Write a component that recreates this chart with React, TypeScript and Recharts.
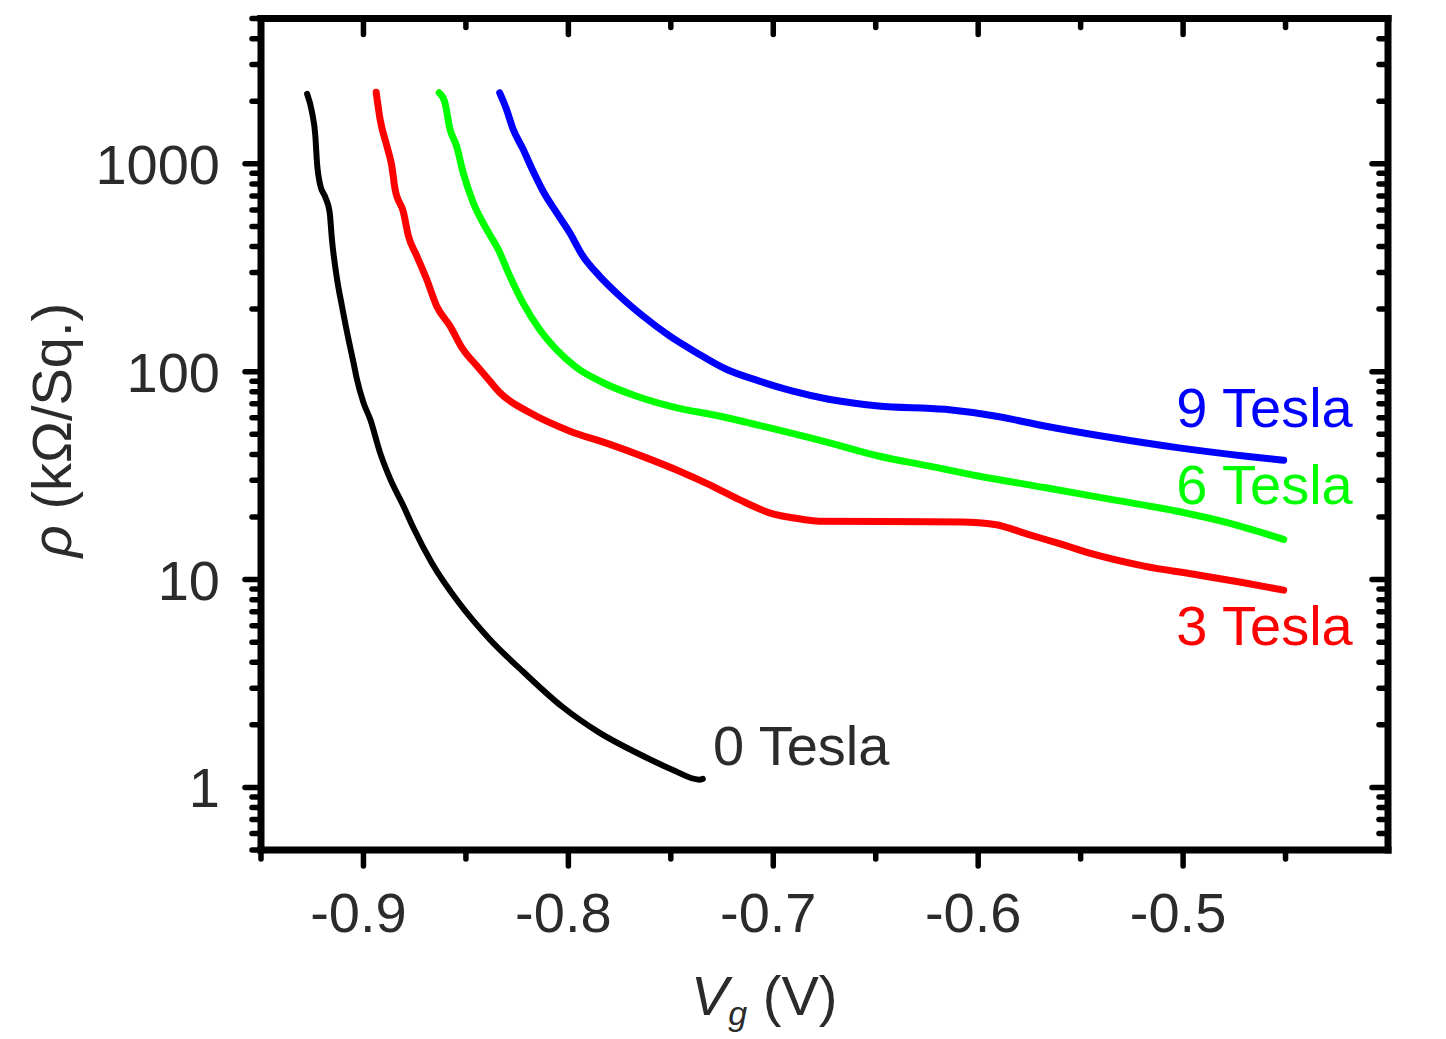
import React from 'react';
import { LineChart, Line, XAxis, YAxis, ReferenceDot } from 'recharts';

// ---------- data (Vg in V, rho in kOhm/Sq.) ----------
const V_0T = [-0.9275, -0.9251, -0.9235, -0.9227, -0.9211, -0.9186, -0.9165, -0.9154, -0.9129, -0.9105, -0.9073, -0.9049, -0.9032, -0.9, -0.8967, -0.8919, -0.8869, -0.8805, -0.8757, -0.8667, -0.8534, -0.8383, -0.8215, -0.8031, -0.7847, -0.7662, -0.7495, -0.7361, -0.7344];
const RHO_0T = [2170, 1770, 1370, 1020, 790, 690, 585, 435, 279, 207, 143, 111, 92, 71, 59, 40.8, 30.4, 22.6, 17.8, 12.05, 7.73, 5.15, 3.56, 2.45, 1.83, 1.46, 1.22, 1.09, 1.1];

const V_3T = [-0.8938, -0.8919, -0.8886, -0.8862, -0.8846, -0.8805, -0.8781, -0.874, -0.8692, -0.8643, -0.8578, -0.8514, -0.8448, -0.8384, -0.8335, -0.8189, -0.7995, -0.78, -0.7622, -0.746, -0.7315, -0.7168, -0.7022, -0.686, -0.6779, -0.6487, -0.6082, -0.5919, -0.5757, -0.5595, -0.5433, -0.519, -0.4947, -0.4703, -0.4509];
const RHO_3T = [2210, 1640, 1220, 980, 757, 585, 451, 361, 279, 207, 166, 128, 107, 90.3, 79.4, 63.6, 51.9, 44.8, 38.6, 33.3, 28.7, 24.3, 21.0, 19.5, 19.1, 19.0, 18.9, 18.4, 16.5, 14.8, 13.2, 11.6, 10.6, 9.65, 8.89];

const V_6T = [-0.863, -0.8603, -0.8578, -0.8546, -0.8514, -0.8465, -0.84, -0.8343, -0.8286, -0.8222, -0.8141, -0.8059, -0.7962, -0.7833, -0.767, -0.7476, -0.7265, -0.7022, -0.673, -0.6487, -0.6243, -0.6, -0.5676, -0.5352, -0.5028, -0.4785, -0.4509];
const RHO_6T = [2195, 1980, 1470, 1220, 911, 653, 486, 389, 289, 215, 160, 128, 105, 88.7, 76.4, 67.2, 61.2, 53.8, 45.6, 39.3, 35.2, 31.5, 27.7, 24.3, 21.3, 18.8, 15.6];

const V_9T = [-0.8335, -0.8303, -0.827, -0.8222, -0.8173, -0.8124, -0.8059, -0.7995, -0.793, -0.7849, -0.7751, -0.7638, -0.7508, -0.7378, -0.7232, -0.7071, -0.6909, -0.673, -0.6487, -0.6162, -0.5919, -0.5676, -0.5352, -0.5028, -0.4703, -0.4509];
const RHO_9T = [2195, 1840, 1470, 1180, 925, 740, 585, 469, 361, 289, 232, 186, 149, 124, 103, 90.3, 80.8, 73.7, 68.4, 65.9, 61.2, 54.8, 48.2, 43.1, 39.3, 37.5];

// ---------- axes ----------
const X_DOMAIN = [-0.95, -0.4];
const X_TICKS = [-0.95, -0.9, -0.85, -0.8, -0.75, -0.7, -0.65, -0.6, -0.55, -0.5, -0.45];
const X_MAJOR = [-0.9, -0.8, -0.7, -0.6, -0.5];
const X_LABELS = ['-0.9', '-0.8', '-0.7', '-0.6', '-0.5'];

const Y_DOMAIN = [0.5, 5000];
const Y_TICKS = [0.5, 0.6, 0.7, 0.8, 0.9, 1, 2, 3, 4, 5, 6, 7, 8, 9, 10, 20, 30, 40, 50, 60, 70, 80, 90, 100, 200, 300, 400, 500, 600, 700, 800, 900, 1000, 2000, 3000, 4000, 5000];
const Y_MAJOR = [1, 10, 100, 1000];
const Y_LABELS = ['1', '10', '100', '1000'];

// ---------- annotations ----------
const SERIES_NAMES = ['0 Tesla', '3 Tesla', '6 Tesla', '9 Tesla'];
const LABEL_V = [-0.7294, -0.4172, -0.4172, -0.4172];
const LABEL_RHO = [1.286, 4.87, 23.0, 54.0];

const SERIES_COLORS = ['#000000', '#ff0000', '#00ff00', '#0000ff'];
const SERIES_WIDTHS = [6, 7, 7, 7];
const LABEL_COLORS = ['#2b2b2b', '#ff0000', '#00ff00', '#0000ff'];
const LABEL_ANCHORS = ['start', 'end', 'end', 'end'];

const toRows = (v: number[], r: number[]) => v.map((x, i) => ({ v: x, rho: r[i] }));
const SERIES_DATA = [toRows(V_0T, RHO_0T), toRows(V_3T, RHO_3T), toRows(V_6T, RHO_6T), toRows(V_9T, RHO_9T)];

const FONT = '"Liberation Sans", Arial, Helvetica, sans-serif';
const TEXT = '#2b2b2b';
const MAJ = 16;
const MIN = 9;
const TW = 5.5;

const idx = (arr: number[], v: number) => arr.findIndex((m) => Math.abs(m - v) < 1e-9 * Math.max(1, Math.abs(m)));

const BottomTick = (props: any) => {
  const { x, y, payload } = props;
  const i = idx(X_MAJOR, payload.value);
  return (
    <g>
      <line x1={x} y1={y} x2={x} y2={y + (i >= 0 ? MAJ : MIN)} stroke="#000" strokeWidth={TW} strokeLinecap="round" />
      {i >= 0 && (
        <text x={x - 5} y={y + 82} textAnchor="middle" fontSize={56} fontFamily={FONT} fill={TEXT}>
          {X_LABELS[i]}
        </text>
      )}
    </g>
  );
};

const TopTick = (props: any) => {
  const { x, y, payload } = props;
  const i = idx(X_MAJOR, payload.value);
  return (
    <g>
      <line x1={x} y1={y} x2={x} y2={y + (i >= 0 ? MAJ : MIN)} stroke="#000" strokeWidth={TW} strokeLinecap="round" />
    </g>
  );
};

const LeftTick = (props: any) => {
  const { x, y, payload } = props;
  const i = idx(Y_MAJOR, payload.value);
  return (
    <g>
      <line x1={x} y1={y} x2={x - (i >= 0 ? MAJ : MIN)} y2={y} stroke="#000" strokeWidth={TW} strokeLinecap="round" />
      {i >= 0 && (
        <text x={x - 41} y={y + 20} textAnchor="end" fontSize={56} fontFamily={FONT} fill={TEXT}>
          {Y_LABELS[i]}
        </text>
      )}
    </g>
  );
};

const RightTick = (props: any) => {
  const { x, y, payload } = props;
  const i = idx(Y_MAJOR, payload.value);
  if (payload.value <= 0.5) return <g />;
  return (
    <g>
      <line x1={x} y1={y} x2={x - (i >= 0 ? MAJ : MIN)} y2={y} stroke="#000" strokeWidth={TW} strokeLinecap="round" />
    </g>
  );
};

const frameLine = { stroke: '#000', strokeWidth: 7, strokeLinecap: 'square' as const };

export default function App() {
  return (
    <div style={{ width: 1430, height: 1025, background: '#fff' }}>
      <LineChart width={1430} height={1025} margin={{ top: 9.5, right: 49, bottom: 83, left: 53 }}>
        <XAxis
          xAxisId={0}
          dataKey="v"
          type="number"
          domain={X_DOMAIN}
          allowDataOverflow
          ticks={X_TICKS}
          interval={0}
          height={100}
          tickSize={0}
          tickMargin={0}
          tickLine={false}
          axisLine={frameLine}
          tick={<BottomTick />}
        />
        <XAxis
          xAxisId="top"
          dataKey="v"
          orientation="top"
          type="number"
          domain={X_DOMAIN}
          allowDataOverflow
          ticks={X_TICKS}
          interval={0}
          height={1}
          tickSize={0}
          tickMargin={0}
          tickLine={false}
          axisLine={frameLine}
          tick={<TopTick />}
        />
        <YAxis
          yAxisId={0}
          type="number"
          scale="log"
          domain={Y_DOMAIN}
          allowDataOverflow
          ticks={Y_TICKS}
          interval={0}
          width={200}
          tickSize={0}
          tickMargin={0}
          tickLine={false}
          axisLine={frameLine}
          tick={<LeftTick />}
        />
        <YAxis
          yAxisId="right"
          orientation="right"
          type="number"
          scale="log"
          domain={Y_DOMAIN}
          allowDataOverflow
          ticks={Y_TICKS}
          interval={0}
          width={1}
          tickSize={0}
          tickMargin={0}
          tickLine={false}
          axisLine={frameLine}
          tick={<RightTick />}
        />
        {/* invisible series that binds the mirrored top/right axes */}
        <Line
          data={SERIES_DATA[3]}
          dataKey="rho"
          xAxisId="top"
          yAxisId="right"
          stroke="none"
          strokeOpacity={0}
          dot={false}
          activeDot={false}
          legendType="none"
          isAnimationActive={false}
        />
        {SERIES_DATA.map((d, i) => (
          <Line
            key={SERIES_NAMES[i]}
            data={d}
            dataKey="rho"
            type="monotone"
            stroke={SERIES_COLORS[i]}
            strokeWidth={SERIES_WIDTHS[i]}
            strokeLinecap="round"
            strokeLinejoin="round"
            dot={false}
            activeDot={false}
            isAnimationActive={false}
          />
        ))}
        {SERIES_NAMES.map((name, i) => (
          <ReferenceDot
            key={'lbl' + name}
            x={LABEL_V[i]}
            y={LABEL_RHO[i]}
            r={0}
            ifOverflow="visible"
            shape={(p: any) => (
              <text x={p.cx} y={p.cy} textAnchor={LABEL_ANCHORS[i]} fontSize={56} fontFamily={FONT} fill={LABEL_COLORS[i]}>
                {name}
              </text>
            )}
          />
        ))}
        <text x={63} y={422} transform="rotate(-90 63 422)" textAnchor="middle" fontSize={56} fontFamily={FONT} fill={TEXT}>
          <tspan fontStyle="italic">ρ</tspan>
          <tspan> (kΩ/Sq.)</tspan>
        </text>
        <text x={683} y={1007} textAnchor="start" fontSize={56} fontFamily={FONT} fill={TEXT}>
          <tspan fontStyle="italic">V</tspan>
          <tspan fontStyle="italic" fontSize={34} dy={10}>g</tspan>
          <tspan dy={-10}> (V)</tspan>
        </text>
      </LineChart>
    </div>
  );
}
